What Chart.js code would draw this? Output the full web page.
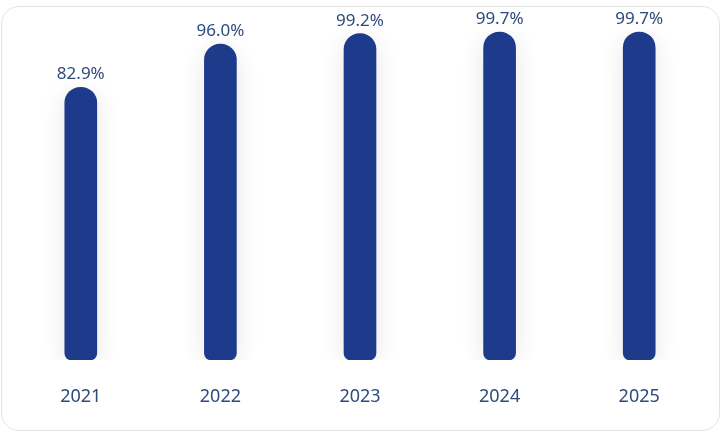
<!DOCTYPE html>
<html>
<head>
<meta charset="utf-8">
<script src="https://cdn.jsdelivr.net/npm/chart.js@4"></script>
<style>
html,body{margin:0;padding:0;background:#fff;width:727px;height:439px;overflow:hidden;}
#card{position:absolute;left:1px;top:6px;width:719px;height:425px;box-sizing:border-box;border:1px solid #e4e4e4;border-radius:18px;background:#fff;}
#wrap{position:absolute;left:0;top:0;width:727px;height:439px;}
</style>
</head>
<body>
<div id="card"></div>
<div id="wrap"><canvas id="c" width="727" height="439"></canvas></div>
<script>
const years = ['2021','2022','2023','2024','2025'];
const rates = [82.9, 96.0, 99.2, 99.7, 99.7];
const valueLabels = ['82.9%','96.0%','99.2%','99.7%','99.7%'];

const FONT = '"Segoe UI", "Noto Sans", "Open Sans", sans-serif';
const TEXT = '#2f4a7c';

const shadowPlugin = {
  id: 'barShadow',
  beforeDatasetsDraw(chart){
    const ctx = chart.ctx;
    ctx.save();
    ctx.shadowColor = 'rgba(0,0,0,0.10)';
    ctx.shadowBlur = 24;
    ctx.shadowOffsetX = 0;
    ctx.shadowOffsetY = 5;
  },
  afterDatasetsDraw(chart){
    chart.ctx.restore();
  }
};

const valuePlugin = {
  id: 'valueLabels',
  afterDatasetsDraw(chart){
    const ctx = chart.ctx;
    const meta = chart.getDatasetMeta(0);
    ctx.save();
    ctx.font = '17px ' + FONT;
    ctx.fillStyle = TEXT;
    ctx.textAlign = 'center';
    ctx.textBaseline = 'alphabetic';
    meta.data.forEach((bar, i) => {
      ctx.fillText(valueLabels[i], bar.x, bar.y - 8);
    });
    ctx.restore();
  }
};

new Chart(document.getElementById('c'), {
  type: 'bar',
  data: {
    labels: years,
    datasets: [{
      data: rates,
      backgroundColor: '#1e3a8a',
      barThickness: 32,
      borderSkipped: false,
      borderRadius: {topLeft: 16, topRight: 16, bottomLeft: 7, bottomRight: 7}
    }]
  },
  options: {
    responsive: false,
    animation: false,
    devicePixelRatio: 1,
    layout: {padding: {left: 11, right: 18, top: 31, bottom: 0}},
    plugins: {legend: {display: false}, tooltip: {enabled: false}},
    scales: {
      y: {display: false, min: 0, max: 100},
      x: {
        grid: {display: false, drawTicks: false},
        border: {display: false},
        ticks: {color: TEXT, font: {family: FONT, size: 18}, padding: 26},
        afterFit(scale){ scale.height = 79; }
      }
    }
  },
  plugins: [shadowPlugin, valuePlugin]
});
</script>
</body>
</html>
